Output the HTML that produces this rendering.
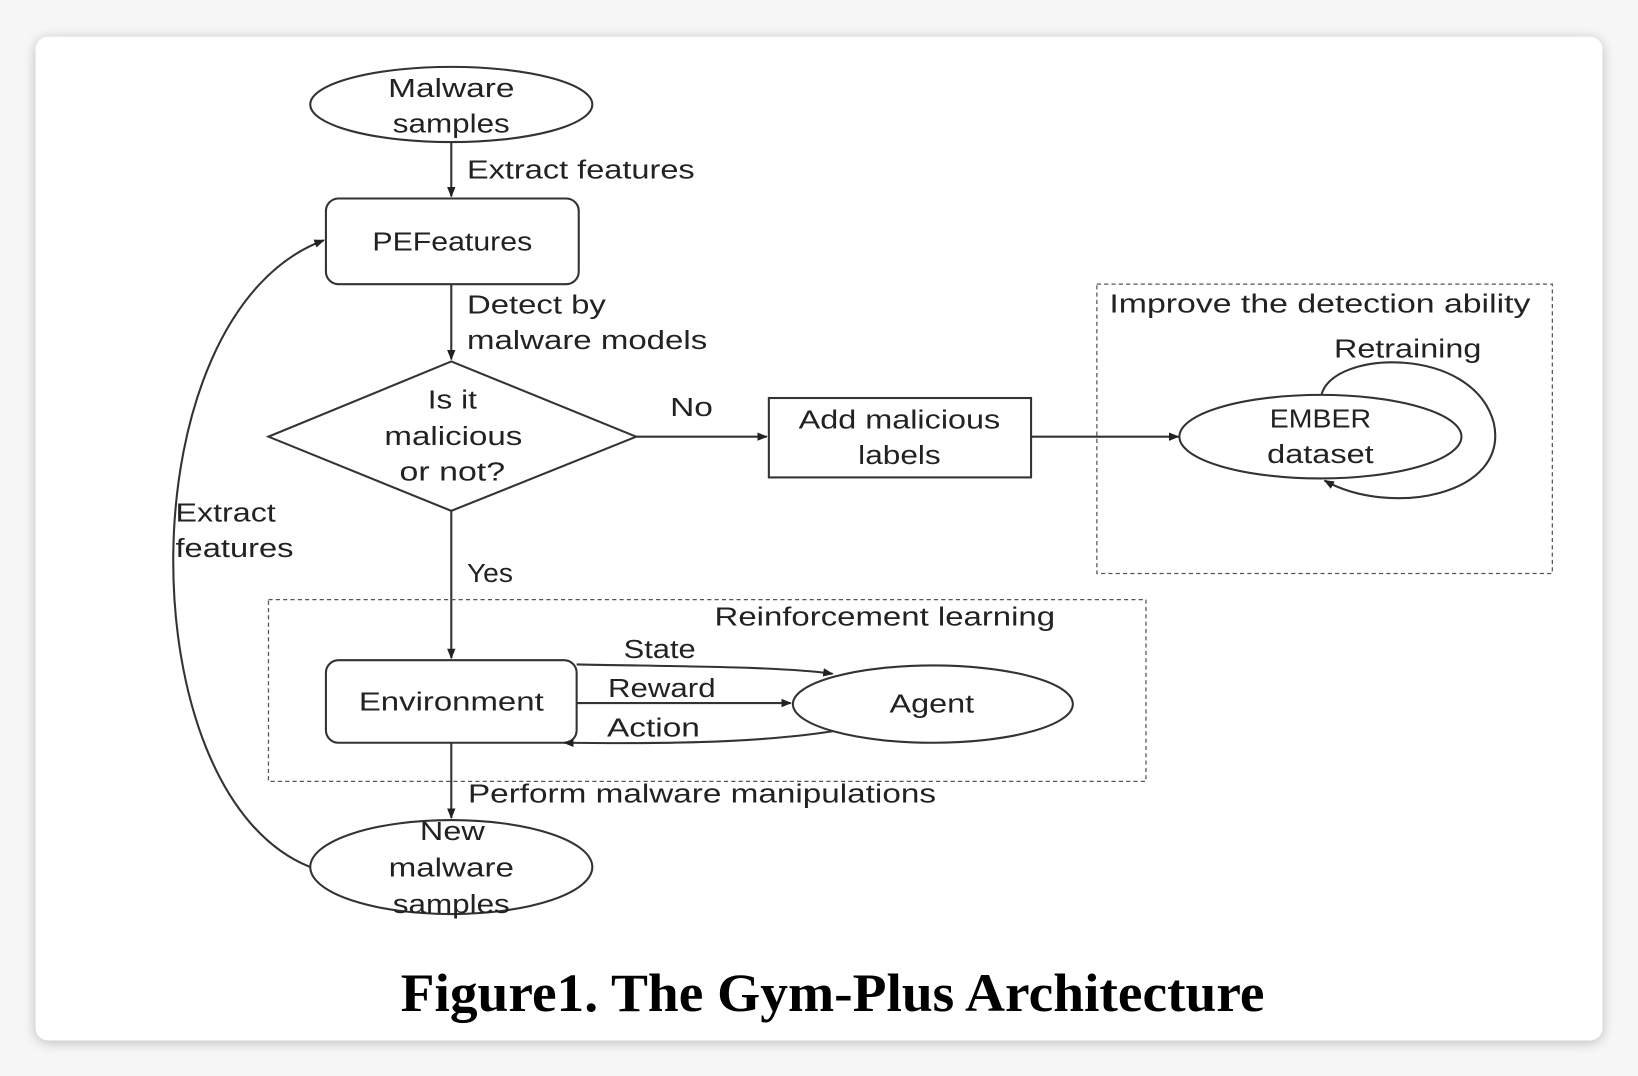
<!DOCTYPE html>
<html><head><meta charset="utf-8"><style>
html,body{margin:0;padding:0;background:#f4f4f4;}
svg{display:block}
text{font-family:"Liberation Sans",sans-serif;font-size:25px;fill:#222}
.t{text-anchor:middle}
</style></head><body>
<svg width="1638" height="1076" viewBox="0 0 1568 1030" xmlns="http://www.w3.org/2000/svg">
<defs>
<marker id="a" markerWidth="10" markerHeight="10" refX="9" refY="5" orient="auto" markerUnits="userSpaceOnUse"><path d="M0,1 L10,5 L0,9 z" fill="#222"/></marker>
<filter id="s" x="-5%" y="-5%" width="110%" height="110%"><feGaussianBlur stdDeviation="6"/></filter>
</defs>
<rect x="0" y="0" width="1568" height="1030" fill="#f7f7f7"/>
<rect x="34" y="37" width="1500" height="961" rx="12" fill="#bbb" filter="url(#s)"/>
<rect x="34" y="35" width="1500" height="961" rx="12" fill="#fff"/>
<g stroke="#333" stroke-width="2" fill="none">
<ellipse cx="432" cy="100" rx="135" ry="36"/>
<line x1="432" y1="136" x2="432" y2="188" marker-end="url(#a)"/>
<rect x="312" y="190" width="242" height="82" rx="12"/>
<line x1="432" y1="272" x2="432" y2="344" marker-end="url(#a)"/>
<polygon points="432,346 609,418 432,489 257,418"/>
<line x1="609" y1="418" x2="734" y2="418" marker-end="url(#a)"/>
<rect x="736" y="381" width="251" height="76"/>
<line x1="987" y1="418" x2="1128" y2="418" marker-end="url(#a)"/>
<ellipse cx="1264" cy="418" rx="135" ry="40"/>
<path d="M1265,378 C1275,335 1410,330 1430,405 C1445,475 1330,495 1268,460" marker-end="url(#a)"/>
<line x1="432" y1="489" x2="432" y2="630" marker-end="url(#a)"/>
<rect x="312" y="632" width="240" height="79" rx="12"/>
<ellipse cx="893" cy="674" rx="134" ry="37"/>
<path d="M552,636 C650,638 750,638 797,645" marker-end="url(#a)"/>
<line x1="552" y1="673" x2="757" y2="673" marker-end="url(#a)"/>
<path d="M797,700 C720,712 620,712 540,711" marker-end="url(#a)"/>
<line x1="432" y1="711" x2="432" y2="783" marker-end="url(#a)"/>
<ellipse cx="432" cy="830" rx="135" ry="45"/>
<path d="M297,830 C120,760 120,300 310,230" marker-end="url(#a)"/>
</g>
<g stroke="#555" stroke-width="1.2" fill="none" stroke-dasharray="4,3">
<rect x="1050" y="272" width="436" height="277"/>
<rect x="257" y="574" width="840" height="174"/>
</g>
<text lengthAdjust="spacingAndGlyphs" class="t" x="432" y="93" textLength="121">Malware</text>
<text lengthAdjust="spacingAndGlyphs" class="t" x="432" y="127" textLength="112">samples</text>
<text lengthAdjust="spacingAndGlyphs" x="447" y="171" textLength="218">Extract features</text>
<text lengthAdjust="spacingAndGlyphs" class="t" x="433" y="240" textLength="153">PEFeatures</text>
<text lengthAdjust="spacingAndGlyphs" x="447" y="300" textLength="133">Detect by</text>
<text lengthAdjust="spacingAndGlyphs" x="447" y="334" textLength="230">malware models</text>
<text lengthAdjust="spacingAndGlyphs" class="t" x="433" y="391" textLength="47">Is it</text>
<text lengthAdjust="spacingAndGlyphs" class="t" x="434" y="426" textLength="132">malicious</text>
<text lengthAdjust="spacingAndGlyphs" class="t" x="433" y="460" textLength="101">or not?</text>
<text lengthAdjust="spacingAndGlyphs" class="t" x="662" y="398" textLength="41">No</text>
<text lengthAdjust="spacingAndGlyphs" class="t" x="861" y="410" textLength="193">Add malicious</text>
<text lengthAdjust="spacingAndGlyphs" class="t" x="861" y="444" textLength="79">labels</text>
<text lengthAdjust="spacingAndGlyphs" class="t" x="1264" y="409" textLength="97">EMBER</text>
<text lengthAdjust="spacingAndGlyphs" class="t" x="1264" y="443" textLength="102">dataset</text>
<text lengthAdjust="spacingAndGlyphs" x="1062" y="299" textLength="403">Improve the detection ability</text>
<text lengthAdjust="spacingAndGlyphs" x="1277" y="342" textLength="141">Retraining</text>
<text lengthAdjust="spacingAndGlyphs" x="168" y="499" textLength="96">Extract</text>
<text lengthAdjust="spacingAndGlyphs" x="168" y="533" textLength="113">features</text>
<text lengthAdjust="spacingAndGlyphs" x="447" y="557" textLength="44">Yes</text>
<text lengthAdjust="spacingAndGlyphs" x="684" y="599" textLength="326">Reinforcement learning</text>
<text lengthAdjust="spacingAndGlyphs" class="t" x="432" y="680" textLength="177">Environment</text>
<text lengthAdjust="spacingAndGlyphs" class="t" x="892" y="682" textLength="81">Agent</text>
<text lengthAdjust="spacingAndGlyphs" x="597" y="630" textLength="69">State</text>
<text lengthAdjust="spacingAndGlyphs" x="582" y="667" textLength="103">Reward</text>
<text lengthAdjust="spacingAndGlyphs" x="581" y="705" textLength="89">Action</text>
<text lengthAdjust="spacingAndGlyphs" x="448" y="768" textLength="448">Perform malware manipulations</text>
<text lengthAdjust="spacingAndGlyphs" class="t" x="433" y="804" textLength="62">New</text>
<text lengthAdjust="spacingAndGlyphs" class="t" x="432" y="839" textLength="120">malware</text>
<text lengthAdjust="spacingAndGlyphs" class="t" x="432" y="874" textLength="112">samples</text>
<text lengthAdjust="spacingAndGlyphs" class="t" x="797" y="968" textLength="827" style="font-family:'Liberation Serif',serif;font-weight:bold;font-size:52px;fill:#000">Figure1. The Gym-Plus Architecture</text>
</svg>
</body></html>
